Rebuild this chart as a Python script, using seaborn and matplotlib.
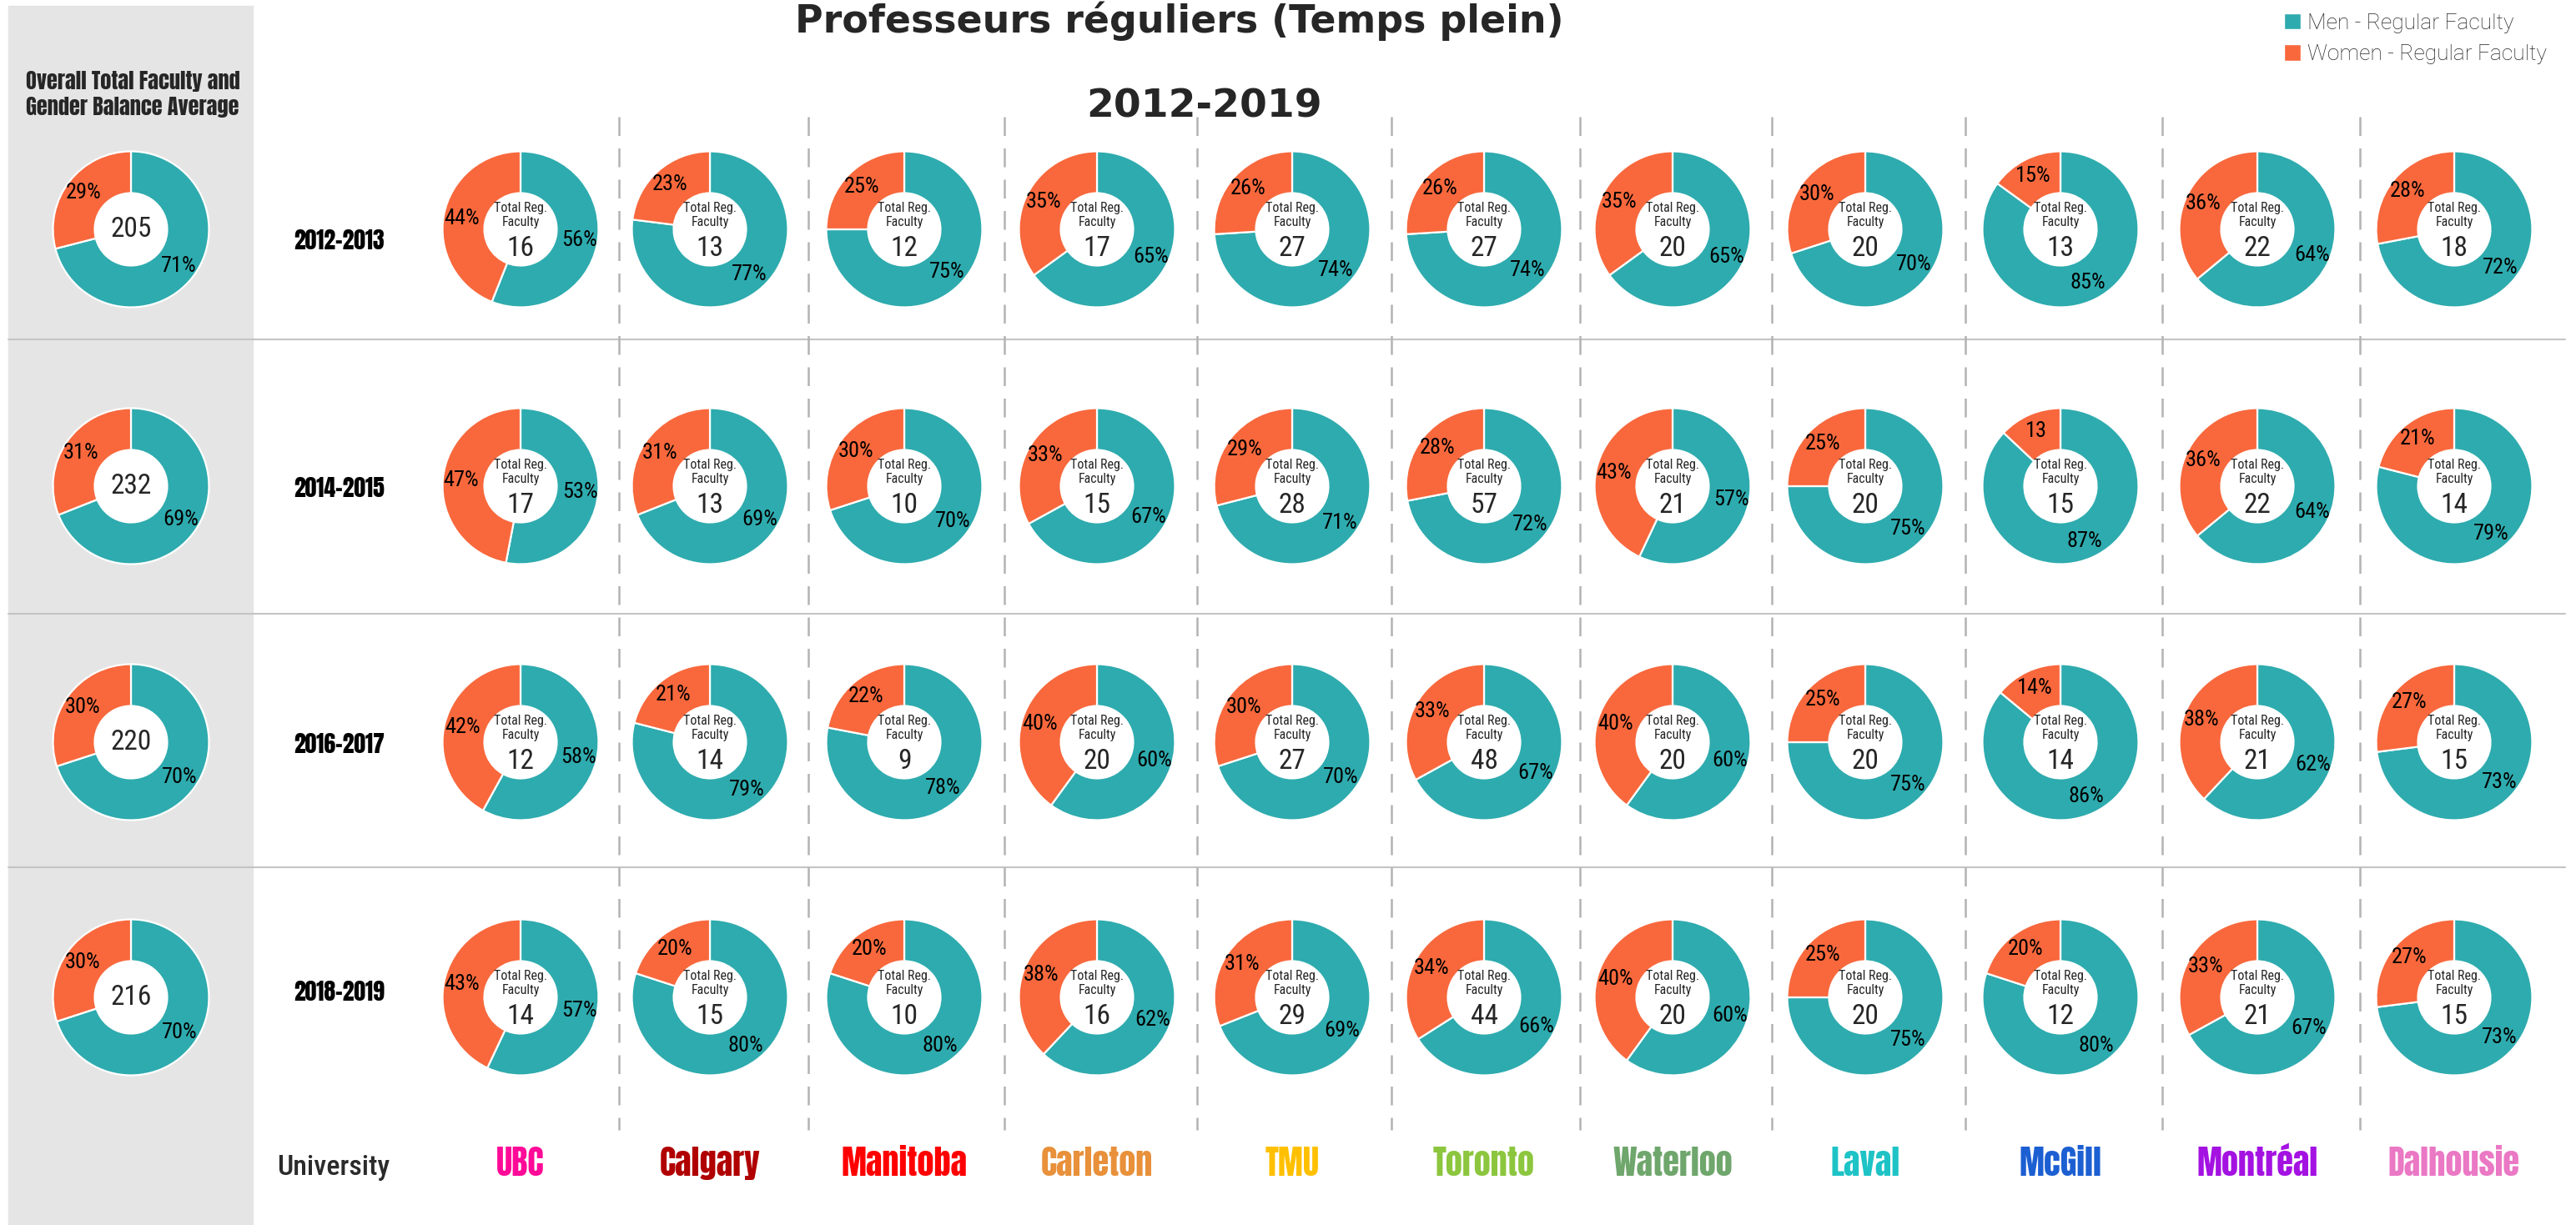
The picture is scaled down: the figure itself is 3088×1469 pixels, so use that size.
import matplotlib
matplotlib.use("Agg")
import matplotlib.pyplot as plt
from matplotlib.patches import Patch, Rectangle, Circle
import seaborn as sns
import numpy as np

# ---- data ----
years = ["2012-2013", "2014-2015", "2016-2017", "2018-2019"]
universities = ["UBC", "Calgary", "Manitoba", "Carleton", "TMU", "Toronto",
                "Waterloo", "Laval", "McGill", "Montréal", "Dalhousie"]
uni_colors = ["#FF0A98", "#B00000", "#FF0000", "#E8903A", "#FFC000", "#8CC63E",
              "#6FA66C", "#1EC3C6", "#1C5FD2", "#A412E2", "#EA78C4"]

men_2012 = [56, 77, 75, 65, 74, 74, 65, 70, 85, 64, 72]
women_2012 = [44, 23, 25, 35, 26, 26, 35, 30, 15, 36, 28]
total_2012 = [16, 13, 12, 17, 27, 27, 20, 20, 13, 22, 18]

men_2014 = [53, 69, 70, 67, 71, 72, 57, 75, 87, 64, 79]
women_2014 = [47, 31, 30, 33, 29, 28, 43, 25, 13, 36, 21]
total_2014 = [17, 13, 10, 15, 28, 57, 21, 20, 15, 22, 14]

men_2016 = [58, 79, 78, 60, 70, 67, 60, 75, 86, 62, 73]
women_2016 = [42, 21, 22, 40, 30, 33, 40, 25, 14, 38, 27]
total_2016 = [12, 14, 9, 20, 27, 48, 20, 20, 14, 21, 15]

men_2018 = [57, 80, 80, 62, 69, 66, 60, 75, 80, 67, 73]
women_2018 = [43, 20, 20, 38, 31, 34, 40, 25, 20, 33, 27]
total_2018 = [14, 15, 10, 16, 29, 44, 20, 20, 12, 21, 15]

overall_men = [71, 69, 70, 70]
overall_women = [29, 31, 30, 30]
overall_total = [205, 232, 220, 216]

# the McGill 2014-2015 women label is printed without the % sign
label_no_pct = {(1, "McGill")}

men_rows = [men_2012, men_2014, men_2016, men_2018]
women_rows = [women_2012, women_2014, women_2016, women_2018]
total_rows = [total_2012, total_2014, total_2016, total_2018]

# ---- style ----
sns.set_theme(style="white")
COND = ["Roboto Condensed", "Barlow Semi Condensed", "DejaVu Sans"]
HEAVY = ["Anton", "Oswald", "DejaVu Sans"]
plt.rcParams["font.family"] = COND
TEAL = "#2EABAE"
ORANGE = "#F8683C"

W, H = 3088, 1469
fig = plt.figure(figsize=(W / 100, H / 100), dpi=100)

# background layer in pixel coordinates
bg = fig.add_axes([0, 0, 1, 1])
bg.set_xlim(0, W)
bg.set_ylim(H, 0)
bg.axis("off")

bg.add_patch(Rectangle((10, 7), 293, H - 7, color="#E5E5E5", zorder=0))

row_y = [275, 583, 890, 1196]
year_label_y = [288, 585, 892, 1189]
col_x = [624, 851, 1084, 1315, 1549, 1779, 2005, 2236, 2470, 2706, 2942]
sep_y = [407, 736, 1040]
dash_x = [742, 969, 1204, 1435, 1668, 1894, 2124, 2356, 2592, 2829]

for y in sep_y:
    bg.plot([10, 3075], [y, y], color="#C4C4C4", lw=1.5, zorder=1)
for x in dash_x:
    bg.plot([x, x], [140, 1355], color="#B3B3B3", lw=1.8,
            linestyle=(0, (9, 6)), zorder=1)

R = 93.5
PAD = 1.06
HOLE = 0.465


def donut(cx, cy, men, women, women_txt):
    ax = fig.add_axes([(cx - R * PAD) / W, 1 - (cy + R * PAD) / H,
                       2 * R * PAD / W, 2 * R * PAD / H])
    wedges, _ = ax.pie([men, women], colors=[TEAL, ORANGE], startangle=90,
                       counterclock=False, radius=1,
                       wedgeprops=dict(width=1 - HOLE, edgecolor="white", linewidth=1.6))
    ax.add_patch(Circle((0, 0), HOLE, facecolor="white", edgecolor="none", zorder=0.5))
    ax.set_xlim(-PAD, PAD)
    ax.set_ylim(-PAD, PAD)
    ax.axis("off")
    for w, txt in zip(wedges, [f"{men}%", women_txt]):
        ang = np.deg2rad((w.theta1 + w.theta2) / 2)
        ax.text(0.77 * np.cos(ang), 0.77 * np.sin(ang), txt, ha="center",
                va="center", fontsize=19, color="black")
    return ax


for i, year in enumerate(years):
    cy = row_y[i]
    # overall column
    ax = donut(157, cy, overall_men[i], overall_women[i], f"{overall_women[i]}%")
    ax.text(0, 0, str(overall_total[i]), ha="center", va="center", fontsize=24)
    # year label
    bg.text(407, year_label_y[i], year, ha="center", va="center",
            fontsize=20, family=HEAVY, color="black")
    for j, uni in enumerate(universities):
        w = women_rows[i][j]
        wt = f"{w}" if (i, uni) in label_no_pct else f"{w}%"
        ax = donut(col_x[j], cy, men_rows[i][j], w, wt)
        ax.text(0, 0.27, "Total Reg.", ha="center", va="center", fontsize=11.5)
        ax.text(0, 0.09, "Faculty", ha="center", va="center", fontsize=11.5)
        ax.text(0, -0.25, str(total_rows[i][j]), ha="center", va="center", fontsize=24)

# headings
bg.text(159, 97, "Overall Total Faculty and", ha="center", va="center",
        fontsize=19, family=HEAVY)
bg.text(159, 128, "Gender Balance Average", ha="center", va="center",
        fontsize=19, family=HEAVY)
bg.text(1414, 39, "Professeurs réguliers (Temps plein)", ha="center", va="baseline",
        fontsize=33, fontweight="bold", family=["DejaVu Sans"])
bg.text(1444, 140, "2012-2019", ha="center", va="baseline",
        fontsize=34, fontweight="bold", family=["DejaVu Sans"])

# bottom university names
bg.text(400, 1400, "University", ha="center", va="center", fontsize=24.5,
        fontweight="medium", color="#2B2B2B")
for j, uni in enumerate(universities):
    bg.text(col_x[j], 1395, uni, ha="center", va="center", fontsize=29,
            family=HEAVY, color=uni_colors[j])

# legend
handles = [Patch(facecolor=TEAL, label="Men - Regular Faculty"),
           Patch(facecolor=ORANGE, label="Women - Regular Faculty")]
fig.legend(handles=handles, loc="upper left", bbox_to_anchor=(2738 / W, 1 - 16 / H),
           frameon=False, prop={"family": ["Roboto", "DejaVu Sans"], "weight": "light", "size": 19},
           handlelength=0.75, handleheight=0.75, handletextpad=0.3, labelspacing=0.5,
           borderaxespad=0, borderpad=0)

fig.savefig("out.png", dpi=100)
